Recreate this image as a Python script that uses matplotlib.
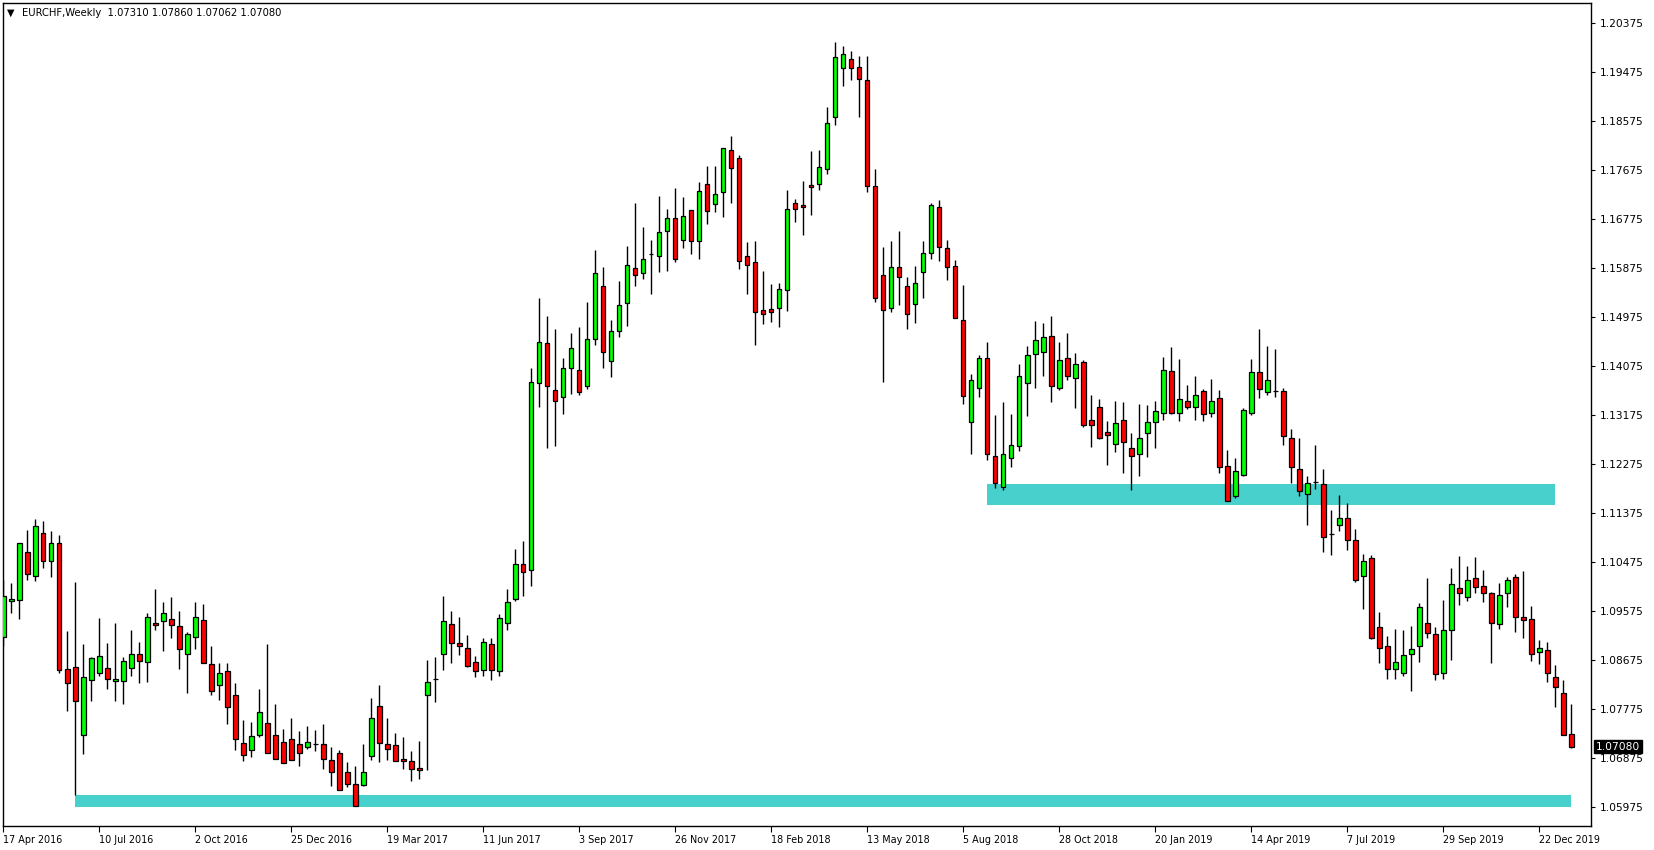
import numpy as np
import pandas as pd
import matplotlib
matplotlib.use("Agg")
import matplotlib.pyplot as plt

# weekly EURCHF candles (week starting 17 Apr 2016)
opens = [1.0909, 1.0975, 1.0977, 1.1065, 1.1021, 1.1100, 1.1050, 1.1082, 1.0850, 1.0855,
         1.0730, 1.0831, 1.0843, 1.0852, 1.0828, 1.0828, 1.0852, 1.0878, 1.0863, 1.0936,
         1.0938, 1.0942, 1.0929, 1.0879, 1.0909, 1.0940, 1.0859, 1.0822, 1.0846, 1.0802,
         1.0714, 1.0701, 1.0729, 1.0751, 1.0730, 1.0716, 1.0721, 1.0712, 1.0708, 1.0712,
         1.0712, 1.0683, 1.0697, 1.0661, 1.0639, 1.0637, 1.0690, 1.0782, 1.0712, 1.0710,
         1.0686, 1.0681, 1.0668, 1.0802, 1.0833, 1.0879, 1.0933, 1.0898, 1.0889, 1.0863,
         1.0848, 1.0896, 1.0846, 1.0936, 1.0979, 1.1043, 1.1032, 1.1376, 1.1449, 1.1363,
         1.1350, 1.1403, 1.1401, 1.1370, 1.1457, 1.1554, 1.1416, 1.1471, 1.1523, 1.1587,
         1.1578, 1.1613, 1.1609, 1.1655, 1.1679, 1.1639, 1.1694, 1.1637, 1.1743, 1.1705,
         1.1727, 1.1804, 1.1789, 1.1609, 1.1598, 1.1510, 1.1512, 1.1515, 1.1548, 1.1708,
         1.1703, 1.1740, 1.1743, 1.1769, 1.1865, 1.1955, 1.1971, 1.1958, 1.1934, 1.1738,
         1.1574, 1.1515, 1.1589, 1.1554, 1.1521, 1.1580, 1.1615, 1.1699, 1.1624, 1.1591,
         1.1493, 1.1304, 1.1368, 1.1423, 1.1243, 1.1185, 1.1238, 1.1260, 1.1377, 1.1429,
         1.1434, 1.1462, 1.1368, 1.1423, 1.1385, 1.1414, 1.1309, 1.1333, 1.1287, 1.1264,
         1.1309, 1.1256, 1.1245, 1.1284, 1.1304, 1.1322, 1.1398, 1.1321, 1.1344, 1.1333,
         1.1361, 1.1321, 1.1348, 1.1223, 1.1168, 1.1207, 1.1321, 1.1396, 1.1359, 1.1361,
         1.1361, 1.1276, 1.1219, 1.1172, 1.1195, 1.1190, 1.1099, 1.1115, 1.1128, 1.1087,
         1.1021, 1.1054, 1.0927, 1.0892, 1.0850, 1.0843, 1.0878, 1.0892, 1.0935, 1.0914,
         1.0844, 1.0922, 1.0999, 1.0982, 1.1017, 1.1004, 1.0990, 1.0933, 1.0990, 1.1019,
         1.0947, 1.0942, 1.0881, 1.0885, 1.0835, 1.0806, 1.07310]
highs = [1.1014, 1.1008, 1.1083, 1.1106, 1.1126, 1.1122, 1.1104, 1.1096, 1.0920, 1.1010,
         1.0897, 1.0873, 1.0944, 1.0898, 1.0935, 1.0872, 1.0922, 1.0900, 1.0953, 1.0998,
         1.0974, 1.0983, 1.0957, 1.0918, 1.0974, 1.0970, 1.0893, 1.0861, 1.0861, 1.0825,
         1.0757, 1.0753, 1.0814, 1.0897, 1.0787, 1.0740, 1.0760, 1.0737, 1.0746, 1.0738,
         1.0749, 1.0707, 1.0701, 1.0679, 1.0673, 1.0713, 1.0797, 1.0822, 1.0760, 1.0732,
         1.0725, 1.0699, 1.0719, 1.0868, 1.0872, 1.0984, 1.0957, 1.0946, 1.0913, 1.0874,
         1.0907, 1.0907, 1.0951, 1.0997, 1.1071, 1.1085, 1.1403, 1.1532, 1.1499, 1.1475,
         1.1422, 1.1469, 1.1479, 1.1526, 1.1620, 1.1589, 1.1493, 1.1563, 1.1628, 1.1707,
         1.1663, 1.1639, 1.1720, 1.1696, 1.1735, 1.1718, 1.1694, 1.1745, 1.1775, 1.1775,
         1.1808, 1.1830, 1.1795, 1.1635, 1.1637, 1.1582, 1.1558, 1.1561, 1.1732, 1.1714,
         1.1747, 1.1802, 1.1804, 1.1883, 1.2003, 1.1995, 1.1986, 1.1977, 1.1977, 1.1769,
         1.1626, 1.1637, 1.1656, 1.1571, 1.1591, 1.1637, 1.1707, 1.1712, 1.1640, 1.1602,
         1.1556, 1.1392, 1.1427, 1.1451, 1.1317, 1.1341, 1.1319, 1.1412, 1.1444, 1.1490,
         1.1486, 1.1499, 1.1451, 1.1468, 1.1431, 1.1418, 1.1355, 1.1346, 1.1306, 1.1344,
         1.1342, 1.1284, 1.1337, 1.1335, 1.1344, 1.1425, 1.1442, 1.1420, 1.1372, 1.1390,
         1.1366, 1.1383, 1.1363, 1.1254, 1.1238, 1.1330, 1.1420, 1.1475, 1.1444, 1.1438,
         1.1368, 1.1291, 1.1276, 1.1205, 1.1262, 1.1219, 1.1142, 1.1170, 1.1155, 1.1107,
         1.1062, 1.1060, 1.0955, 1.0912, 1.0925, 1.0922, 1.0929, 1.0971, 1.1017, 1.0927,
         1.0977, 1.1037, 1.1058, 1.1039, 1.1056, 1.1032, 1.0993, 1.1008, 1.1019, 1.1025,
         1.1030, 1.0966, 1.0903, 1.0901, 1.0857, 1.0830, 1.07860]
lows = [1.0892, 1.0954, 1.0943, 1.1015, 1.1013, 1.1037, 1.1020, 1.0843, 1.0774, 1.0619,
        1.0694, 1.0791, 1.0838, 1.0813, 1.0792, 1.0787, 1.0837, 1.0824, 1.0827, 1.0923,
        1.0884, 1.0908, 1.0851, 1.0807, 1.0888, 1.0861, 1.0803, 1.0794, 1.0750, 1.0702,
        1.0682, 1.0689, 1.0726, 1.0696, 1.0686, 1.0677, 1.0683, 1.0673, 1.0703, 1.0699,
        1.0666, 1.0635, 1.0628, 1.0633, 1.0598, 1.0635, 1.0683, 1.0680, 1.0684, 1.0681,
        1.0667, 1.0644, 1.0649, 1.0664, 1.0790, 1.0848, 1.0862, 1.0877, 1.0854, 1.0835,
        1.0837, 1.0830, 1.0837, 1.0922, 1.0975, 1.0984, 1.1004, 1.1333, 1.1257, 1.1261,
        1.1319, 1.1357, 1.1355, 1.1365, 1.1446, 1.1403, 1.1387, 1.1461, 1.1482, 1.1555,
        1.1568, 1.1539, 1.1581, 1.1583, 1.1598, 1.1624, 1.1613, 1.1605, 1.1668, 1.1690,
        1.1681, 1.1708, 1.1585, 1.1539, 1.1447, 1.1484, 1.1488, 1.1480, 1.1508, 1.1672,
        1.1648, 1.1685, 1.1731, 1.1760, 1.1850, 1.1922, 1.1933, 1.1865, 1.1727, 1.1526,
        1.1378, 1.1506, 1.1520, 1.1476, 1.1487, 1.1532, 1.1604, 1.1600, 1.1565, 1.1495,
        1.1337, 1.1245, 1.1351, 1.1235, 1.1183, 1.1179, 1.1221, 1.1251, 1.1315, 1.1367,
        1.1390, 1.1341, 1.1363, 1.1381, 1.1330, 1.1295, 1.1258, 1.1273, 1.1225, 1.1249,
        1.1211, 1.1180, 1.1206, 1.1240, 1.1256, 1.1308, 1.1319, 1.1306, 1.1328, 1.1308,
        1.1306, 1.1313, 1.1210, 1.1159, 1.1164, 1.1205, 1.1317, 1.1348, 1.1354, 1.1350,
        1.1262, 1.1192, 1.1168, 1.1116, 1.1182, 1.1065, 1.1060, 1.1105, 1.1069, 1.1010,
        1.0960, 1.0905, 1.0861, 1.0832, 1.0833, 1.0837, 1.0810, 1.0863, 1.0907, 1.0830,
        1.0832, 1.0868, 1.0969, 1.0975, 1.0990, 1.0973, 1.0861, 1.0925, 1.0964, 1.0918,
        1.0907, 1.0865, 1.0859, 1.0826, 1.0780, 1.0729, 1.07062]
closes = [1.0984, 1.0979, 1.1082, 1.1025, 1.1113, 1.1050, 1.1083, 1.0848, 1.0824, 1.0791,
          1.0835, 1.0870, 1.0874, 1.0833, 1.0833, 1.0865, 1.0879, 1.0865, 1.0947, 1.0931,
          1.0953, 1.0931, 1.0887, 1.0914, 1.0946, 1.0861, 1.0810, 1.0843, 1.0780, 1.0721,
          1.0692, 1.0727, 1.0771, 1.0696, 1.0686, 1.0677, 1.0683, 1.0696, 1.0717, 1.0712,
          1.0685, 1.0661, 1.0628, 1.0639, 1.0598, 1.0661, 1.0760, 1.0714, 1.0703, 1.0681,
          1.0681, 1.0666, 1.0664, 1.0826, 1.0833, 1.0938, 1.0898, 1.0892, 1.0856, 1.0846,
          1.0900, 1.0848, 1.0944, 1.0973, 1.1043, 1.1028, 1.1379, 1.1451, 1.1370, 1.1343,
          1.1403, 1.1440, 1.1359, 1.1458, 1.1578, 1.1434, 1.1471, 1.1519, 1.1593, 1.1574,
          1.1605, 1.1613, 1.1653, 1.1679, 1.1604, 1.1683, 1.1637, 1.1730, 1.1692, 1.1723,
          1.1808, 1.1771, 1.1600, 1.1594, 1.1506, 1.1503, 1.1506, 1.1550, 1.1697, 1.1697,
          1.1699, 1.1736, 1.1773, 1.1855, 1.1975, 1.1982, 1.1955, 1.1936, 1.1738, 1.1532,
          1.1510, 1.1589, 1.1571, 1.1504, 1.1561, 1.1616, 1.1703, 1.1626, 1.1589, 1.1495,
          1.1352, 1.1381, 1.1422, 1.1246, 1.1192, 1.1245, 1.1262, 1.1389, 1.1427, 1.1455,
          1.1460, 1.1370, 1.1418, 1.1390, 1.1411, 1.1300, 1.1300, 1.1276, 1.1280, 1.1302,
          1.1267, 1.1243, 1.1275, 1.1304, 1.1324, 1.1401, 1.1321, 1.1346, 1.1333, 1.1354,
          1.1319, 1.1344, 1.1221, 1.1159, 1.1214, 1.1326, 1.1396, 1.1365, 1.1381, 1.1361,
          1.1278, 1.1221, 1.1177, 1.1192, 1.1195, 1.1094, 1.1099, 1.1129, 1.1087, 1.1014,
          1.1050, 1.0907, 1.0890, 1.0850, 1.0863, 1.0876, 1.0887, 1.0964, 1.0916, 1.0841,
          1.0922, 1.1006, 1.0990, 1.1015, 1.1001, 1.0990, 1.0935, 1.0986, 1.1015, 1.0947,
          1.0940, 1.0879, 1.0890, 1.0844, 1.0817, 1.0729, 1.07080]

# support zones drawn on the chart: (first bar, last bar, low, high)
zones = [(9, 196, 1.0597, 1.0619),
         (123, 194, 1.1152, 1.1191)]

price_ticks = [1.05975 + 0.009 * k for k in range(17)]
dates = pd.date_range("2016-04-17", periods=len(opens), freq="7D")
title = "EURCHF,Weekly  1.07310 1.07860 1.07062 1.07080"

o = np.array(opens)
h = np.array(highs)
l = np.array(lows)
c = np.array(closes)
x = np.arange(len(o))

fig = plt.figure(figsize=(16.54, 8.5), dpi=100)
ax = fig.add_axes([2.7 / 1654, 24.3 / 850, 1588 / 1654, 823 / 850])

for z0, z1, lo, hi in zones:
    ax.fill_between([z0, z1], lo, hi, color="#48D1CC", lw=0, zorder=1)

ax.vlines(x, l, h, color="black", lw=1.0, zorder=2)
up = c >= o
body_col = np.where(up, "#00FF00", "#FF0000")
ax.bar(x, np.abs(c - o), bottom=np.minimum(o, c), width=0.55,
       color=body_col, edgecolor="black", linewidth=0.9, zorder=3)

ax.set_xlim(-0.075, 198.425)
ax.set_ylim(1.05625, 1.20754)

for s in ax.spines.values():
    s.set_color("black")
    s.set_linewidth(1.0)

ax.yaxis.tick_right()
ax.set_yticks(price_ticks)
ax.set_yticklabels([f"{p:.5f}" for p in price_ticks])
ax.tick_params(axis="y", direction="out", length=3, width=0.8, pad=3.5,
               labelsize=7.7, colors="black")

tick_idx = list(range(0, len(x), 12))
ax.set_xticks(tick_idx)
ax.set_xticklabels([f"{dates[i].day} {dates[i].strftime('%b %Y')}" for i in tick_idx],
                   ha="left")
ax.tick_params(axis="x", direction="out", length=4, width=0.8, pad=2.5,
               labelsize=6.9, colors="black")

# last price marker on the price scale
ax.annotate(f"{c[-1]:.5f}", xy=(1, c[-1]), xycoords=("axes fraction", "data"),
            xytext=(3.6, 0), textcoords="offset points", va="center", ha="left",
            color="white", fontsize=7.7, zorder=10, annotation_clip=False,
            bbox=dict(boxstyle="square,pad=0.18", fc="black", ec="black"))

fig.text(6.5 / 1654, 1 - 12.8 / 850, "\u25bc", fontsize=7, va="center", ha="left")
fig.text(21.7 / 1654, 1 - 13.3 / 850, title, fontsize=7.2, va="center", ha="left")

fig.savefig("out.png", dpi=100, facecolor="white")
